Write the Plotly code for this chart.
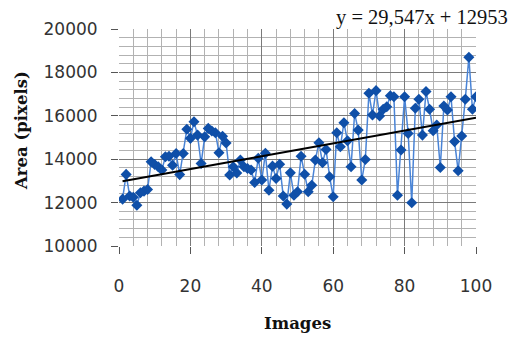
import plotly.graph_objects as go

images = list(range(1, 101))
area = [12160, 13300, 12300, 12250, 11880, 12450, 12530, 12600, 13880, 13760,
        13650, 13500, 14110, 14140, 13720, 14260, 13290, 14260, 15380, 14960,
        15730, 15110, 13800, 15030, 15420, 15300, 15220, 14300, 15060, 14750,
        13270, 13650, 13360, 13960, 13650, 13570, 13500, 12930, 14040, 13040,
        14270, 12570, 13680, 13110, 13770, 12300, 11930, 13370, 12340, 12500,
        14140, 13310, 12500, 12800, 13960, 14760, 13840, 14450, 13190, 12270,
        15220, 14570, 15680, 14850, 13650, 16110, 15340, 13040, 13990, 17040,
        16040, 17160, 15990, 16300, 16420, 16920, 16880, 12340, 14420, 16880,
        15190, 11990, 16350, 16760, 15110, 17120, 16300, 15310, 15580, 13620,
        16450, 16270, 16880, 14810, 13470, 15070, 16760, 18700, 16300, 16880]

trend_slope = 29.547
trend_intercept = 12953
trend_x = [1, 100]
trend_y = [trend_slope * x + trend_intercept for x in trend_x]

x_ticks = [0, 20, 40, 60, 80, 100]
y_ticks = [10000, 12000, 14000, 16000, 18000, 20000]

fig = go.Figure()
fig.add_trace(go.Scatter(
    x=images, y=area, mode="lines+markers",
    line=dict(color="#4a84d6", width=1.5),
    marker=dict(symbol="diamond", size=8.5, color="#0f4fa8"),
    showlegend=False))
fig.add_trace(go.Scatter(
    x=trend_x, y=trend_y, mode="lines",
    line=dict(color="black", width=2), showlegend=False))

tickfont = dict(family="DejaVu Sans", size=17, color="#333")
fig.update_xaxes(
    range=[0, 100], tickvals=x_ticks, ticktext=[str(v) for v in x_ticks],
    showgrid=True, gridcolor="#7a7a7a", gridwidth=1,
    minor=dict(dtick=4, showgrid=True, gridcolor="#b2b2b2", gridwidth=1),
    ticks="outside", ticklen=7, tickcolor="#555", tickfont=tickfont,
    ticklabelstandoff=18, zeroline=False, showline=False)
fig.update_yaxes(
    range=[10000, 20000], tickvals=y_ticks, ticktext=[str(v) for v in y_ticks],
    showgrid=True, gridcolor="#7a7a7a", gridwidth=1,
    minor=dict(dtick=400, showgrid=True, gridcolor="#b2b2b2", gridwidth=1),
    ticks="outside", ticklen=7, tickcolor="#555", tickfont=tickfont,
    ticklabelstandoff=10, zeroline=False, showline=False)

fig.update_layout(
    width=511, height=338,
    margin=dict(l=119, r=35, t=29, b=92),
    plot_bgcolor="white", paper_bgcolor="white",
    annotations=[
        dict(text="y = 29,547x + 12953", xref="paper", yref="paper",
             x=1.095, y=1.055, xanchor="right", yanchor="middle",
             showarrow=False,
             font=dict(family="Liberation Serif", size=20.5, color="#111")),
        dict(text="<b>Area (pixels)</b>", xref="paper", yref="paper",
             x=-0.2717, y=0.53, xanchor="center", yanchor="middle",
             textangle=-90, showarrow=False,
             font=dict(family="DejaVu Serif", size=16.5, color="#111")),
        dict(text="<b>Images</b>", xref="paper", yref="paper",
             x=0.5, y=-0.3594, xanchor="center", yanchor="middle",
             showarrow=False,
             font=dict(family="DejaVu Serif", size=16.5, color="#111")),
    ],
)

fig.write_html("out.html")
